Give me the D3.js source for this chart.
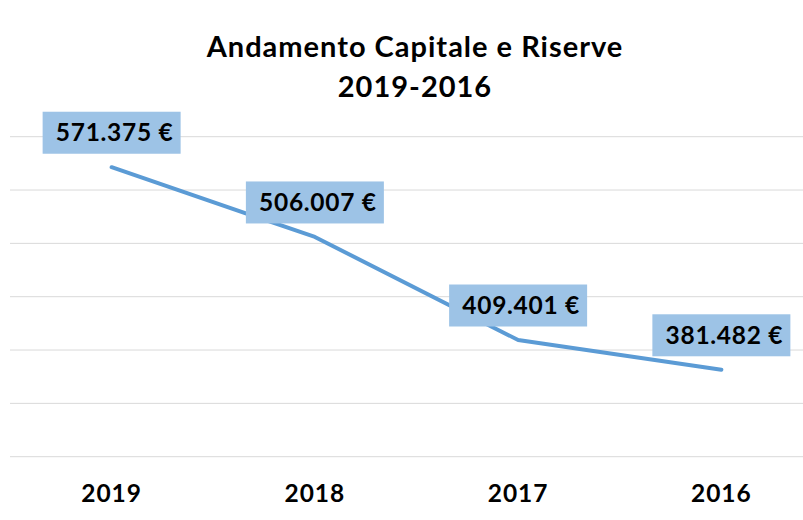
<!DOCTYPE html>
<html>
<head>
<meta charset="utf-8">
<script src="https://cdn.jsdelivr.net/npm/d3@7"></script>
<style>
  body { margin: 0; background: #fff; }
  svg { display: block; }
</style>
</head>
<body>
<div id="chart"></div>
<script>
// Chart data
const years = ["2019", "2018", "2017", "2016"];
const values = [571375, 506007, 409401, 381482];
const yTicks = [300000, 350000, 400000, 450000, 500000, 550000, 600000];
const titleLines = ["Andamento Capitale e Riserve", "2019-2016"];

const width = 803;
const height = 520;
const font = "Lato, 'Open Sans', sans-serif";

const svg = d3.select("#chart")
  .append("svg")
  .attr("width", width)
  .attr("height", height);

svg.append("rect")
  .attr("width", width)
  .attr("height", height)
  .attr("fill", "#fff");

// Scales
const x = d3.scaleBand()
  .domain(years)
  .range([10, 823]);

const y = d3.scaleLinear()
  .domain([300000, 600000])
  .range([456.7, 136.7]);

// Horizontal gridlines
svg.selectAll(".grid")
  .data(yTicks)
  .enter()
  .append("line")
  .attr("class", "grid")
  .attr("x1", 10)
  .attr("x2", width)
  .attr("y1", d => y(d))
  .attr("y2", d => y(d))
  .attr("stroke", "#d9d9d9")
  .attr("stroke-width", 1);

// Title
svg.selectAll(".title")
  .data(titleLines)
  .enter()
  .append("text")
  .attr("class", "title")
  .attr("x", 415)
  .attr("y", (d, i) => 57 + i * 40)
  .attr("text-anchor", "middle")
  .attr("font-family", font)
  .attr("font-weight", "bold")
  .attr("font-size", "29px")
  .attr("letter-spacing", "1px")
  .attr("fill", "#000")
  .text(d => d);

// Line
const line = d3.line()
  .x((d, i) => x(years[i]) + x.bandwidth() / 2)
  .y(d => y(d));

svg.append("path")
  .datum(values)
  .attr("fill", "none")
  .attr("stroke", "#5b9bd5")
  .attr("stroke-width", 4)
  .attr("stroke-linecap", "round")
  .attr("stroke-linejoin", "round")
  .attr("d", line);

// Data labels
const fmt = d3.formatLocale({ decimal: ",", thousands: ".", grouping: [3], currency: ["", " €"] }).format("$,.0f");

const labels = svg.selectAll(".label")
  .data(values)
  .enter()
  .append("g")
  .attr("class", "label")
  .attr("transform", (d, i) => `translate(${x(years[i]) + x.bandwidth() / 2},${y(d) - 34.5})`);

labels.append("rect")
  .attr("x", -69)
  .attr("y", -21)
  .attr("width", 138)
  .attr("height", 42)
  .attr("fill", "#9dc3e6");

labels.append("text")
  .attr("x", 3)
  .attr("y", 8.5)
  .attr("text-anchor", "middle")
  .attr("font-family", font)
  .attr("font-weight", "bold")
  .attr("font-size", "24.5px")
  .attr("letter-spacing", "0.7px")
  .attr("fill", "#000")
  .text(d => fmt(d));

// X axis labels
svg.selectAll(".year")
  .data(years)
  .enter()
  .append("text")
  .attr("class", "year")
  .attr("x", d => x(d) + x.bandwidth() / 2)
  .attr("y", 501.5)
  .attr("text-anchor", "middle")
  .attr("font-family", font)
  .attr("font-weight", "bold")
  .attr("font-size", "24.5px")
  .attr("letter-spacing", "1px")
  .attr("fill", "#000")
  .text(d => d);
</script>
</body>
</html>
